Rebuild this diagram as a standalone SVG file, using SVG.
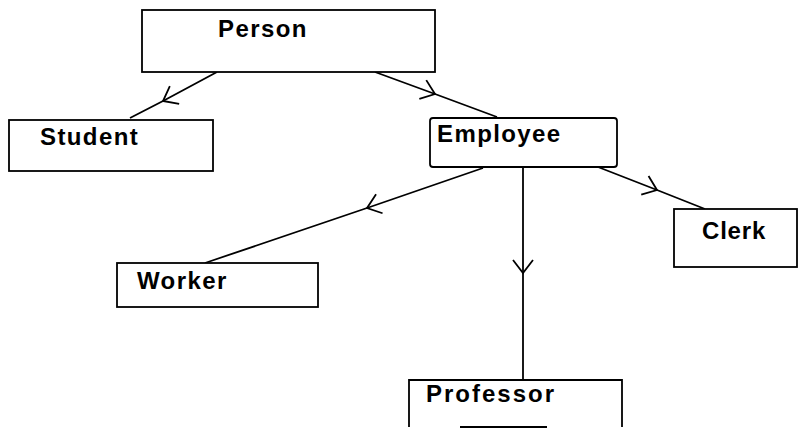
<svg xmlns="http://www.w3.org/2000/svg" width="808" height="428" viewBox="0 0 808 428">
<style>
.box{fill:#fff;stroke:#000;stroke-width:1.8}
.lbl{font-family:"Liberation Sans",Arial,sans-serif;font-weight:bold;font-size:24px;letter-spacing:1.4px;fill:#000}
.edge{fill:none;stroke:#000;stroke-width:1.8;marker-mid:url(#v)}
</style>
<defs>
<marker id="v" markerUnits="userSpaceOnUse" markerWidth="34" markerHeight="34" refX="0" refY="0" viewBox="-17 -17 34 34" orient="auto" overflow="visible">
<path d="M -13 -10 L 0 0 L -13 10" fill="none" stroke="#000" stroke-width="1.8"/>
</marker>
</defs>
<rect width="808" height="428" fill="#fff"/>
<g id="connectors">
<polyline class="edge" points="217,72 163,101 130,118"/>
<polyline class="edge" points="375,72 435,94 497,117"/>
<polyline class="edge" points="483,168 367,208 205,263"/>
<polyline class="edge" points="523,167 523,273 523,380"/>
<polyline class="edge" points="598,167 657,190 705,209"/>
</g>
<g id="person"><rect class="box" x="142" y="10" width="293" height="62"/><text class="lbl" x="218" y="37">Person</text></g>
<g id="student"><rect class="box" x="9" y="120" width="204" height="51"/><text class="lbl" x="40" y="145">Student</text></g>
<g id="employee"><rect class="box" x="430" y="118" width="187" height="49" rx="3"/><text class="lbl" x="437" y="142">Employee</text></g>
<g id="worker"><rect class="box" x="117" y="263" width="201" height="44"/><text class="lbl" x="137" y="289">Worker</text></g>
<g id="clerk"><rect class="box" x="674" y="209" width="123" height="58"/><text class="lbl" x="702" y="239" style="letter-spacing:0.8px">Clerk</text></g>
<g id="professor"><path class="box" d="M409 427 V380 H622 V427" fill="#fff"/><path d="M460 427 H547" stroke="#000" stroke-width="1.8"/><text class="lbl" x="426" y="402" style="letter-spacing:2px">Professor</text></g>
</svg>
